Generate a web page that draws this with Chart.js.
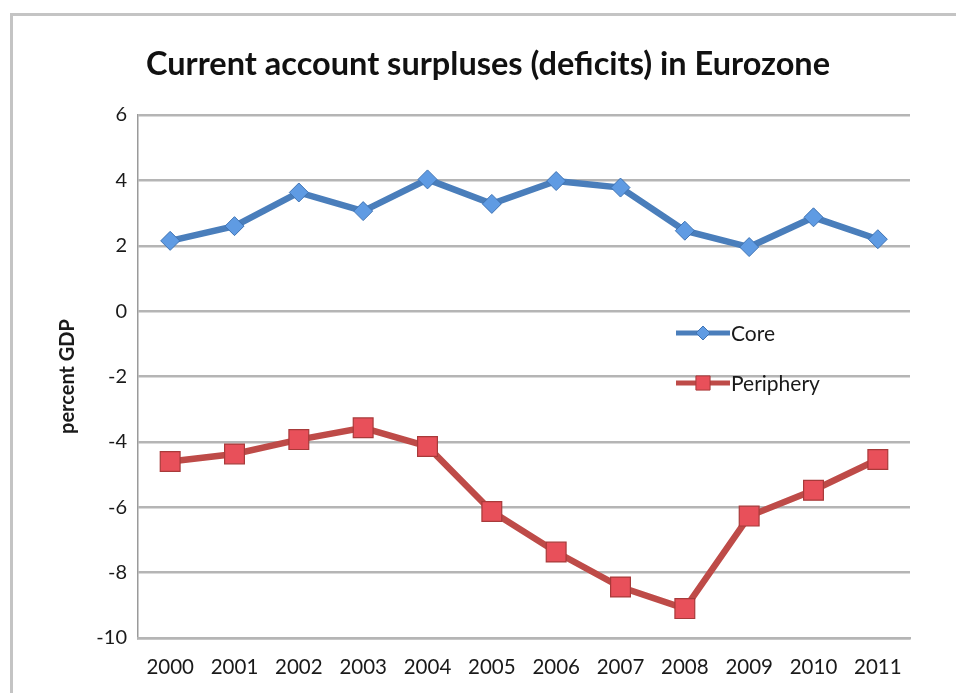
<!DOCTYPE html>
<html lang="en">
<head>
    <meta charset="UTF-8">
    <meta name="viewport" content="width=device-width, initial-scale=1.0">
    <title>chart</title>
    <style>
        body { margin: 0; background: #fff; overflow: hidden; }
        #frame {
            position: absolute; left: 10px; top: 13px; width: 1000px; height: 720px;
            border-left: 3px solid #c4c4c4; border-top: 3px solid #c4c4c4;
        }
        #lineChart { position: absolute; left: 0; top: 0; }
    </style>
</head>
<body>
<div id="frame"></div>
<canvas id="lineChart" width="956" height="693"></canvas>

<script src="https://cdn.jsdelivr.net/npm/chart.js"></script>
<script>
var years = ['2000', '2001', '2002', '2003', '2004', '2005', '2006', '2007', '2008', '2009', '2010', '2011'];
var core = [2.15, 2.6, 3.63, 3.06, 4.03, 3.28, 3.98, 3.78, 2.46, 1.96, 2.87, 2.2];
var periphery = [-4.6, -4.37, -3.93, -3.57, -4.14, -6.13, -7.37, -8.44, -9.1, -6.27, -5.48, -4.54];

var FONT = 'Lato';

// legend drawn inside the plot area, like the excel original
var insideLegend = {
    id: 'insideLegend',
    afterDatasetsDraw: function(chart) {
        var ctx = chart.ctx;
        var area = chart.chartArea;
        var x0 = area.left + 538;
        var rows = [area.top + 218, area.top + 268];
        chart.data.datasets.forEach(function(ds, i) {
            var y = rows[i];
            ctx.save();
            ctx.strokeStyle = ds.borderColor;
            ctx.lineWidth = 5;
            ctx.beginPath();
            ctx.moveTo(x0, y);
            ctx.lineTo(x0 + 54, y);
            ctx.stroke();
            ctx.fillStyle = ds.pointBackgroundColor;
            ctx.strokeStyle = ds.pointBorderColor;
            ctx.lineWidth = 1;
            Chart.helpers.drawPoint(ctx, {
                pointStyle: ds.pointStyle,
                radius: ds.legendRadius,
                rotation: 0,
                borderWidth: 1
            }, x0 + 27, y);
            ctx.fillStyle = '#1a1a1a';
            ctx.font = '21px ' + FONT;
            ctx.textBaseline = 'middle';
            ctx.textAlign = 'left';
            ctx.fillText(ds.label, x0 + 55, y + 1);
            ctx.restore();
        });
    }
};

var lineChart = new Chart(document.getElementById('lineChart').getContext('2d'), {
    type: 'line',
    data: {
        labels: years,
        datasets: [
            {
                label: 'Core',
                data: core,
                borderColor: '#4a7ebb',
                borderWidth: 6.5,
                pointStyle: 'rectRot',
                pointRadius: 9.5,
                pointHoverRadius: 9.5,
                pointBackgroundColor: '#5f9be3',
                pointBorderColor: '#3f73b3',
                pointBorderWidth: 1,
                legendRadius: 7
            },
            {
                label: 'Periphery',
                data: periphery,
                borderColor: '#be4b48',
                borderWidth: 6.5,
                pointStyle: 'rect',
                pointRadius: 14,
                pointHoverRadius: 14,
                pointBackgroundColor: '#e8505a',
                pointBorderColor: '#a83a3a',
                pointBorderWidth: 1.2,
                legendRadius: 10
            }
        ]
    },
    options: {
        responsive: false,
        animation: false,
        layout: {
            // left padding moves the main title centre to match the original
            padding: { left: 66, right: 46, top: 0, bottom: 0 }
        },
        elements: {
            line: { tension: 0 }
        },
        scales: {
            y: {
                min: -10,
                max: 6,
                afterFit: function(scale) { scale.width = 72; },
                title: {
                    display: true,
                    text: 'percent GDP',
                    color: '#1a1a1a',
                    font: { family: FONT, size: 20, weight: 'bold' },
                    padding: { top: -10, bottom: 0 }
                },
                ticks: {
                    stepSize: 2,
                    padding: 11,
                    color: '#1a1a1a',
                    font: { family: FONT, size: 20 }
                },
                grid: {
                    color: '#b5b5b5',
                    lineWidth: 2.5,
                    drawTicks: false
                },
                border: {
                    color: '#9a9a9a',
                    width: 1.5
                }
            },
            x: {
                offset: true,
                afterFit: function(scale) { scale.height = 55; },
                ticks: {
                    padding: 17,
                    maxRotation: 0,
                    color: '#1a1a1a',
                    font: { family: FONT, size: 20.5 }
                },
                grid: {
                    display: false,
                    drawTicks: false
                },
                border: {
                    color: '#b5b5b5',
                    width: 2.5
                }
            }
        },
        plugins: {
            legend: { display: false },
            tooltip: { enabled: false },
            title: {
                display: true,
                text: 'Current account surpluses (deficits) in Eurozone',
                color: '#111',
                font: { family: FONT, size: 32.5, weight: 'bold' },
                padding: { top: 45, bottom: 31 }
            }
        }
    },
    plugins: [insideLegend]
});
</script>
</body>
</html>
